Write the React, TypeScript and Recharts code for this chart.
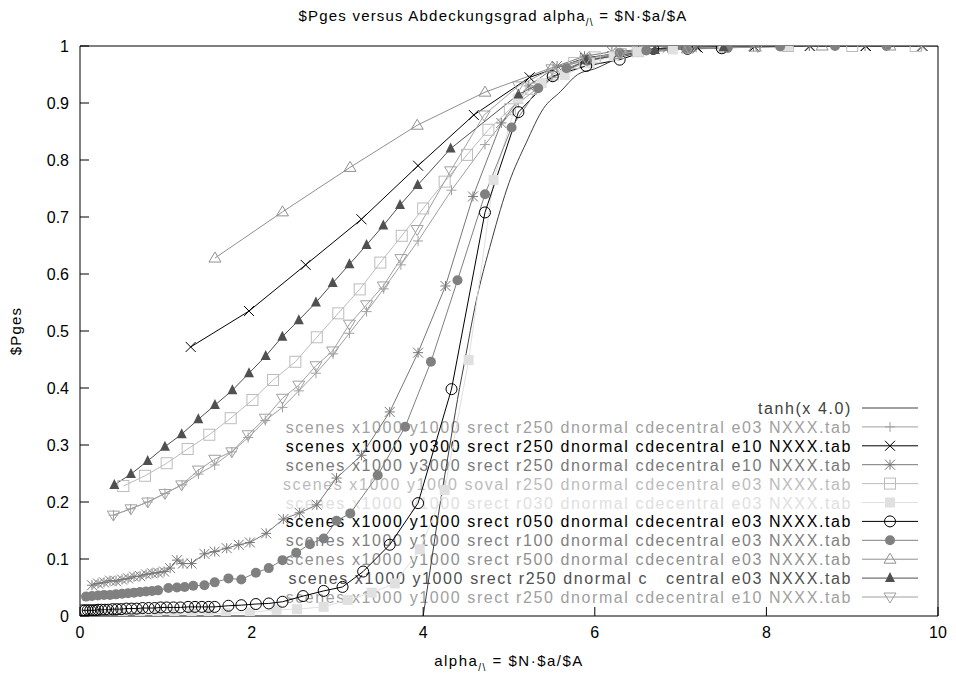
import React from "react";
import { ComposedChart, Line, XAxis, YAxis } from "recharts";

const FONT = "'Liberation Sans', Arial, Helvetica, sans-serif";

const X_TICKS = [0, 2, 4, 6, 8, 10];
const Y_TICKS = [0, 0.1, 0.2, 0.3, 0.4, 0.5, 0.6, 0.7, 0.8, 0.9, 1];

// tanh(x-4.0)
const tanhX = [4.0, 4.1, 4.2, 4.3, 4.4, 4.5, 4.6, 4.8, 5.0, 5.2, 5.4, 5.6, 5.8, 6.0, 6.3, 6.6, 7.0, 7.5, 8.0, 9.0, 10.0];
const tanhY = [0, 0.1, 0.2, 0.29, 0.38, 0.46, 0.54, 0.66, 0.76, 0.83, 0.89, 0.92, 0.95, 0.96, 0.98, 0.99, 0.995, 0.998, 0.999, 1, 1];

// srect r250 e03 (+)
const plusX = [0.39, 0.59, 0.79, 0.99, 1.19, 1.38, 1.57, 1.77, 1.96, 2.16, 2.36, 2.55, 2.75, 2.95, 3.14, 3.34, 3.54, 3.74, 3.94, 4.33, 4.72, 5.11, 5.5, 5.9, 6.3, 6.7, 7.1];
const plusY = [0.177, 0.188, 0.2, 0.215, 0.23, 0.249, 0.265, 0.288, 0.313, 0.343, 0.366, 0.395, 0.426, 0.46, 0.496, 0.534, 0.574, 0.616, 0.658, 0.747, 0.827, 0.9, 0.945, 0.972, 0.986, 0.993, 0.997];

// y0300 e10 (x)
const crossX = [1.29, 1.97, 2.63, 3.28, 3.94, 4.59, 5.24, 5.89, 6.55, 7.2, 7.86, 8.51, 9.16, 9.82];
const crossY = [0.472, 0.535, 0.616, 0.696, 0.79, 0.879, 0.945, 0.979, 0.993, 0.997, 0.999, 1, 1, 1];

// y3000 e10 (*)
const starX = [0.14, 0.21, 0.28, 0.35, 0.42, 0.49, 0.56, 0.63, 0.7, 0.77, 0.84, 0.91, 0.98, 1.05, 1.13, 1.2, 1.3, 1.45, 1.57, 1.71, 1.85, 1.98, 2.17, 2.37, 2.56, 2.76, 2.99, 3.28, 3.61, 3.94, 4.26, 4.58, 4.91, 5.23, 5.56, 5.88, 6.2, 6.56, 6.85, 7.18, 7.52, 7.85, 8.5, 9.15, 9.81];
const starY = [0.054, 0.057, 0.059, 0.062, 0.061, 0.064, 0.066, 0.069, 0.07, 0.073, 0.075, 0.076, 0.078, 0.084, 0.098, 0.092, 0.092, 0.109, 0.113, 0.119, 0.125, 0.129, 0.145, 0.17, 0.181, 0.195, 0.242, 0.282, 0.358, 0.462, 0.579, 0.736, 0.865, 0.93, 0.965, 0.982, 0.99, 0.994, 0.997, 0.998, 0.999, 1, 1, 1, 1];

// soval (open square)
const squareX = [0.505, 0.758, 1.01, 1.255, 1.507, 1.756, 2.01, 2.25, 2.51, 2.76, 3.01, 3.26, 3.5, 3.75, 4.0, 4.25, 4.51, 4.76, 5.01, 5.26, 5.51, 5.76, 6.0, 6.5, 7.5, 8.25, 9.0, 9.74];
const squareY = [0.228, 0.246, 0.268, 0.293, 0.318, 0.347, 0.379, 0.414, 0.446, 0.489, 0.531, 0.573, 0.62, 0.667, 0.715, 0.762, 0.809, 0.853, 0.889, 0.925, 0.95, 0.97, 0.98, 0.991, 0.998, 1, 1, 1];

// r030 (filled square)
const boxX = [0.3, 0.5, 0.7, 0.9, 1.1, 1.3, 1.5, 1.7, 1.98, 2.29, 2.53, 2.84, 3.12, 3.4, 3.67, 3.96, 4.25, 4.53, 4.82, 5.1, 5.38, 5.65, 5.94, 6.22, 6.5, 6.91, 7.5, 8.25];
const boxY = [0.002, 0.002, 0.003, 0.003, 0.003, 0.004, 0.004, 0.005, 0.006, 0.011, 0.012, 0.016, 0.028, 0.041, 0.057, 0.117, 0.221, 0.449, 0.765, 0.908, 0.935, 0.949, 0.97, 0.982, 0.99, 0.994, 0.998, 1];

// r050 (open circle)
const ringX = [0.03, 0.06, 0.09, 0.12, 0.15, 0.18, 0.21, 0.25, 0.29, 0.33, 0.38, 0.43, 0.48, 0.54, 0.6, 0.66, 0.73, 0.8, 0.87, 0.94, 1.01, 1.09, 1.17, 1.26, 1.34, 1.42, 1.5, 1.57, 1.73, 1.88, 2.05, 2.2, 2.36, 2.6, 2.84, 3.06, 3.3, 3.61, 3.94, 4.33, 4.72, 5.11, 5.51, 5.9, 6.29, 6.68, 7.08, 7.48];
const ringY = [0.01, 0.01, 0.01, 0.01, 0.01, 0.01, 0.011, 0.011, 0.011, 0.011, 0.012, 0.012, 0.012, 0.013, 0.013, 0.013, 0.014, 0.014, 0.014, 0.015, 0.015, 0.015, 0.015, 0.016, 0.016, 0.016, 0.016, 0.016, 0.018, 0.019, 0.021, 0.022, 0.025, 0.035, 0.044, 0.051, 0.078, 0.125, 0.198, 0.398, 0.708, 0.884, 0.947, 0.965, 0.976, 0.995, 0.995, 0.996];

// r100 (filled circle)
const dotX = [0.07, 0.14, 0.21, 0.28, 0.35, 0.42, 0.49, 0.56, 0.63, 0.7, 0.77, 0.84, 0.91, 1.03, 1.13, 1.22, 1.32, 1.45, 1.57, 1.73, 1.88, 2.05, 2.2, 2.36, 2.52, 2.68, 2.84, 2.99, 3.15, 3.47, 3.79, 4.09, 4.4, 4.72, 5.03, 5.34, 5.67, 5.91, 6.29, 6.6, 7.07, 7.55, 8.16, 8.8, 9.4];
const dotY = [0.034, 0.035, 0.036, 0.037, 0.037, 0.038, 0.039, 0.04, 0.041, 0.042, 0.043, 0.044, 0.045, 0.049, 0.05, 0.051, 0.053, 0.054, 0.059, 0.066, 0.064, 0.076, 0.084, 0.098, 0.111, 0.126, 0.136, 0.167, 0.18, 0.247, 0.332, 0.446, 0.589, 0.74, 0.857, 0.926, 0.961, 0.974, 0.988, 0.992, 0.995, 0.997, 0.999, 1, 1];

// r500 (open triangle)
const triX = [1.573, 2.36, 3.147, 3.93, 4.72, 5.5, 6.29, 7.08, 7.87, 8.65, 9.44];
const triY = [0.628, 0.709, 0.787, 0.861, 0.919, 0.962, 0.985, 0.995, 0.998, 1, 1];

// r250 e03 cdecentral (filled triangle)
const solidX = [0.4, 0.594, 0.789, 0.99, 1.185, 1.379, 1.573, 1.776, 1.97, 2.164, 2.358, 2.55, 2.75, 2.945, 3.14, 3.34, 3.535, 3.73, 3.936, 4.32, 5.11, 5.9, 6.7, 7.5];
const solidY = [0.23, 0.249, 0.272, 0.297, 0.319, 0.345, 0.37, 0.396, 0.426, 0.456, 0.49, 0.519, 0.55, 0.584, 0.617, 0.651, 0.685, 0.721, 0.756, 0.82, 0.915, 0.975, 0.993, 0.998];

// r250 e10 (open triangle down)
const downX = [0.389, 0.594, 0.79, 0.99, 1.185, 1.38, 1.57, 1.77, 1.96, 2.16, 2.36, 2.55, 2.75, 2.945, 3.14, 3.34, 3.535, 3.74, 3.93, 4.32, 4.71, 5.11, 5.5, 5.9, 6.3, 7.1, 7.9];
const downY = [0.177, 0.188, 0.2, 0.215, 0.23, 0.256, 0.275, 0.288, 0.318, 0.347, 0.382, 0.405, 0.439, 0.465, 0.512, 0.546, 0.579, 0.627, 0.678, 0.781, 0.879, 0.93, 0.96, 0.978, 0.988, 0.996, 0.999];

const LABELS = [
  "tanh(x 4.0)",
  "scenes x1000 y1000 srect r250 dnormal cdecentral e03 NXXX.tab",
  "scenes x1000 y0300 srect r250 dnormal cdecentral e10 NXXX.tab",
  "scenes x1000 y3000 srect r250 dnormal cdecentral e10 NXXX.tab",
  "scenes x1000 y1000 soval r250 dnormal cdecentral e03 NXXX.tab",
  "scenes x1000 y1000 srect r030 dnormal cdecentral e03 NXXX.tab",
  "scenes x1000 y1000 srect r050 dnormal cdecentral e03 NXXX.tab",
  "scenes x1000 y1000 srect r100 dnormal cdecentral e03 NXXX.tab",
  "scenes x1000 y1000 srect r500 dnormal cdecentral e03 NXXX.tab",
  "scenes x1000 y1000 srect r250 dnormal c   central e03 NXXX.tab",
  "scenes x1000 y1000 srect r250 dnormal cdecentral e10 NXXX.tab",
];

type Shape =
  | "none" | "plus" | "cross" | "star" | "square" | "squareFill"
  | "circle" | "circleFill" | "tri" | "triFill" | "triDown";

const zip = (xs: number[], ys: number[]) => xs.map((x, i) => ({ x, y: ys[i] }));

const SERIES: { color: string; shape: Shape; data: { x: number; y: number }[] }[] = [
  { color: "#404040", shape: "none", data: zip(tanhX, tanhY) },
  { color: "#a0a0a0", shape: "plus", data: zip(plusX, plusY) },
  { color: "#000000", shape: "cross", data: zip(crossX, crossY) },
  { color: "#787878", shape: "star", data: zip(starX, starY) },
  { color: "#bcbcbc", shape: "square", data: zip(squareX, squareY) },
  { color: "#e0e0e0", shape: "squareFill", data: zip(boxX, boxY) },
  { color: "#000000", shape: "circle", data: zip(ringX, ringY) },
  { color: "#808080", shape: "circleFill", data: zip(dotX, dotY) },
  { color: "#909090", shape: "tri", data: zip(triX, triY) },
  { color: "#505050", shape: "triFill", data: zip(solidX, solidY) },
  { color: "#a0a0a0", shape: "triDown", data: zip(downX, downY) },
];

function Marker({ shape, x, y, color }: { shape: Shape; x: number; y: number; color: string }) {
  const s = 5;
  const st = { stroke: color, strokeWidth: 1, fill: "none" };
  switch (shape) {
    case "plus":
      return <path d={`M${x - s},${y}H${x + s}M${x},${y - s}V${y + s}`} {...st} />;
    case "cross":
      return <path d={`M${x - s},${y - s}L${x + s},${y + s}M${x - s},${y + s}L${x + s},${y - s}`} {...st} />;
    case "star":
      return (
        <path
          d={`M${x - s},${y}H${x + s}M${x},${y - s}V${y + s}M${x - s},${y - s}L${x + s},${y + s}M${x - s},${y + s}L${x + s},${y - s}`}
          {...st}
        />
      );
    case "square":
      return <rect x={x - s - 0.5} y={y - s - 0.5} width={2 * s + 1} height={2 * s + 1} {...st} />;
    case "squareFill":
      return <rect x={x - s} y={y - s} width={2 * s} height={2 * s} fill={color} />;
    case "circle":
      return <circle cx={x} cy={y} r={5.5} {...st} />;
    case "circleFill":
      return <circle cx={x} cy={y} r={5} fill={color} />;
    case "tri":
      return <path d={`M${x},${y - s - 1}L${x + s + 1},${y + s - 1}H${x - s - 1}Z`} {...st} />;
    case "triFill":
      return <path d={`M${x},${y - s - 1}L${x + s},${y + s - 1}H${x - s}Z`} fill={color} />;
    case "triDown":
      return <path d={`M${x},${y + s + 1}L${x + s + 1},${y - s + 1}H${x - s - 1}Z`} {...st} />;
    default:
      return <g />;
  }
}

const fmtY = (v: number) => (v === 0 ? "0" : v === 1 ? "1" : v.toFixed(1));

export default function App() {
  const rowTop = 408;
  const rowGap = 18.9;
  return (
    <div style={{ position: "fixed", left: 0, top: 0, width: 956, height: 674, background: "#fff", fontFamily: FONT }}>
      <svg width={956} height={674} style={{ position: "absolute", left: 0, top: 0 }} fontFamily={FONT}>
        <text x={493} y={21} textAnchor="middle" fontSize={15} letterSpacing={1.2} fill="#000">
          $Pges versus Abdeckungsgrad alpha
          <tspan fontSize={10} dy={5}>/\</tspan>
          <tspan dy={-5}> = $N·$a/$A</tspan>
        </text>
        <text x={509} y={666} textAnchor="middle" fontSize={15} letterSpacing={1.5} fill="#000">
          alpha
          <tspan fontSize={10} dy={5}>/\</tspan>
          <tspan dy={-5}> = $N·$a/$A</tspan>
        </text>
        <text transform="translate(21,331) rotate(-90)" textAnchor="middle" fontSize={15} letterSpacing={1.2} fill="#000">
          $Pges
        </text>
        {SERIES.map((s, i) => {
          const cy = rowTop + i * rowGap;
          return (
            <g key={i}>
              <text x={852} y={cy + 6} textAnchor="end" fontSize={16} letterSpacing={1.6} fill={s.color} style={{ whiteSpace: "pre" }}>
                {LABELS[i]}
              </text>
              <line x1={862} x2={918} y1={cy} y2={cy} stroke={s.color} />
              <Marker shape={s.shape} x={890} y={cy} color={s.color} />
            </g>
          );
        })}
      </svg>
      <div style={{ position: "absolute", left: 0, top: 0 }}>
        <ComposedChart width={956} height={674} margin={{ top: 45, right: 17, bottom: 0, left: 0 }} style={{ fontFamily: FONT }}>
          <XAxis
            xAxisId="b"
            type="number"
            dataKey="x"
            domain={[0, 10]}
            ticks={X_TICKS}
            allowDataOverflow
            height={58}
            tickSize={-9}
            tickMargin={20}
            axisLine={{ stroke: "#000" }}
            tickLine={{ stroke: "#000" }}
            tick={{ fill: "#000", fontSize: 16 }}
          />
          <XAxis
            xAxisId="t"
            orientation="top"
            type="number"
            dataKey="x"
            domain={[0, 10]}
            ticks={X_TICKS}
            allowDataOverflow
            height={1}
            tickSize={-9}
            axisLine={{ stroke: "#000" }}
            tickLine={{ stroke: "#000" }}
            tick={false}
          />
          <YAxis
            yAxisId="l"
            type="number"
            domain={[0, 1]}
            ticks={Y_TICKS}
            allowDataOverflow
            width={80}
            tickSize={-9}
            tickMargin={20}
            tickFormatter={fmtY}
            axisLine={{ stroke: "#000" }}
            tickLine={{ stroke: "#000" }}
            tick={{ fill: "#000", fontSize: 16 }}
          />
          <YAxis
            yAxisId="r"
            orientation="right"
            type="number"
            domain={[0, 1]}
            ticks={Y_TICKS}
            allowDataOverflow
            width={1}
            tickSize={-9}
            axisLine={{ stroke: "#000" }}
            tickLine={{ stroke: "#000" }}
            tick={false}
          />
          {SERIES.map((s, i) => (
            <Line
              key={i}
              xAxisId="b"
              yAxisId="l"
              data={s.data}
              dataKey="y"
              type={s.shape === "none" ? "monotone" : "linear"}
              stroke={s.color}
              strokeWidth={1}
              isAnimationActive={false}
              dot={
                s.shape === "none"
                  ? false
                  : (p: any) => <Marker key={p.index} shape={s.shape} x={p.cx} y={p.cy} color={s.color} />
              }
              activeDot={false}
            />
          ))}
        </ComposedChart>
      </div>
    </div>
  );
}
